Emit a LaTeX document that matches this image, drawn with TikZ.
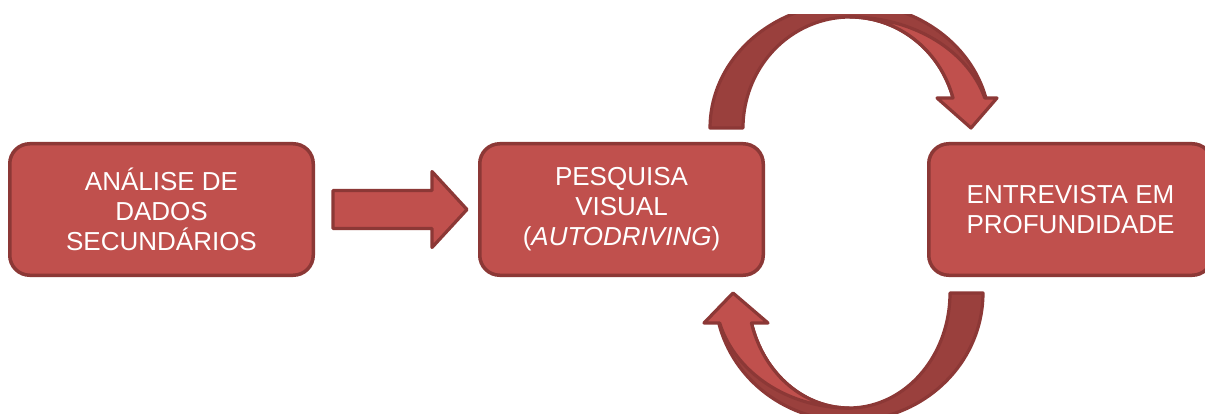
\documentclass[tikz,border=0pt]{standalone}
\usepackage{fontspec}
\setmainfont{Liberation Sans}
\definecolor{boxred}{RGB}{192,80,77}
\definecolor{edgered}{RGB}{140,56,54}
\definecolor{backred}{RGB}{154,64,61}
\begin{document}
\begin{tikzpicture}[x=1pt,y=-1pt,
  stepbox/.style={draw=edgered, fill=boxred, line width=3.5pt, rounded corners=20pt,
    minimum height=131.5pt, text=white, align=center,
    font=\fontsize{26}{30}\selectfont, inner sep=0pt},
  blockarrow/.style={draw=edgered, fill=boxred, line width=3.2pt, line join=round},
  backarrow/.style={draw=edgered, fill=backred, line width=3.2pt, line join=round}]
\useasboundingbox (0,0) rectangle (1205,414);
\fill[white] (0,0) rectangle (1205,414);

% boxes
\node[stepbox, minimum width=303.5pt] (a) at (161.5,209.5) {ANÁLISE DE\\DADOS\\SECUNDÁRIOS};
\node[stepbox, minimum width=283.5pt] (b) at (621.5,209.5) {PESQUISA\\VISUAL\\(\textit{AUTODRIVING})};
\node[stepbox, minimum width=283.5pt] (c) at (1070.5,209.5) {ENTREVISTA EM\\PROFUNDIDADE};

% straight arrow from a to b
\coordinate (s) at ([xshift=18pt]a.east);
\coordinate (t) at ([xshift=-11pt]b.west);
\draw[blockarrow] ([yshift=-19pt]s) -- ([xshift=-35pt,yshift=-19pt]t) -- ([xshift=-35pt,yshift=-38pt]t)
  -- (t) -- ([xshift=-35pt,yshift=38pt]t) -- ([xshift=-35pt,yshift=19pt]t) -- ([yshift=19pt]s) -- cycle;

% top curved arrow (from b to c)
\begin{scope}
\clip (0,15) rectangle (1205,414);
\draw[backarrow]
  plot[domain=180:13.9,samples=70] ({850+140*cos(\x)},{128-125*sin(\x)})
  -- plot[domain=15.7:180,samples=70] ({850+107*cos(\x)},{128-111*sin(\x)}) -- cycle;
\draw[blockarrow]
  plot[domain=90:15.7,samples=50] ({850+140*cos(\x)},{128-111*sin(\x)})
  -- (997,98) -- (971,128) -- (937,98)
  -- plot[domain=15.7:90,samples=50] ({850+107*cos(\x)},{128-111*sin(\x)}) -- cycle;
\end{scope}

% bottom curved arrow (from c to b)
\draw[backarrow]
  plot[domain=0:166.45,samples=70] ({849+134*cos(\x)},{293+128*sin(\x)})
  -- plot[domain=164.88:0,samples=70] ({849+101*cos(\x)},{293+115*sin(\x)}) -- cycle;
\draw[blockarrow]
  plot[domain=90:164.88,samples=50] ({849+134*cos(\x)},{293+115*sin(\x)})
  -- (704,323) -- (733,293) -- (768,323)
  -- plot[domain=164.88:90,samples=50] ({849+101*cos(\x)},{293+115*sin(\x)}) -- cycle;
\end{tikzpicture}
\end{document}
